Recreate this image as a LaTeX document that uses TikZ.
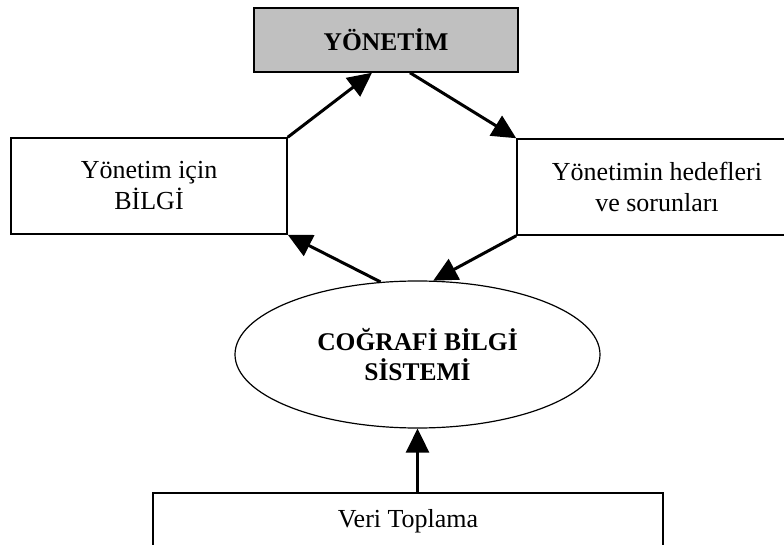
\documentclass[tikz,border=0pt]{standalone}
\usepackage{fontspec}
\setmainfont{Liberation Serif}
\usetikzlibrary{arrows.meta,shapes.geometric}
\definecolor{boxgray}{RGB}{192,192,192}
\begin{document}
\begin{tikzpicture}[x=1pt,y=-1pt,
  box/.style={draw=black, line width=1.5pt, rectangle, inner sep=0pt, align=center,
              font=\fontsize{26}{31}\selectfont},
  boldtext/.style={font=\fontsize{25.5}{30}\selectfont\bfseries},
  flow/.style={line width=3pt, -{Triangle[length=24pt,width=23pt]}},
]
\useasboundingbox (0,0) rectangle (784,545);
\clip (0,0) rectangle (784,545);

% management box at the top
\node[box, boldtext, fill=boxgray, minimum width=264pt, minimum height=64pt]
  (yonetim) at (386,40) {YÖNETİM};

% side boxes
\node[box, minimum width=276pt, minimum height=96pt]
  (bilgi) at (149,186) {Yönetim için\\BİLGİ};
\node[box, minimum width=280pt, minimum height=96pt]
  (hedef) at (657,187) {Yönetimin hedefleri\\ve sorunları};

% central ellipse
\node[draw=black, line width=1.2pt, ellipse, inner sep=0pt, align=center, boldtext,
      minimum width=365pt, minimum height=147pt]
  (cbs) at (417.5,354.5) {COĞRAFİ BİLGİ\\SİSTEMİ};

% data collection box, running past the lower edge
\node[box, anchor=north, minimum width=510pt, text height=35pt, text depth=45pt]
  (veri) at (408,492) {Veri Toplama};

% information flow
\draw[flow] (bilgi.north east) -- ([xshift=-14pt]yonetim.south);
\draw[flow] ([xshift=24pt]yonetim.south) -- (hedef.north west);
\draw[flow] (hedef.south west) -- (cbs.78);
\draw[flow] (cbs.117) -- (bilgi.south east);
\draw[flow] (veri.north -| cbs.south) -- (cbs.south);
\end{tikzpicture}
\end{document}
